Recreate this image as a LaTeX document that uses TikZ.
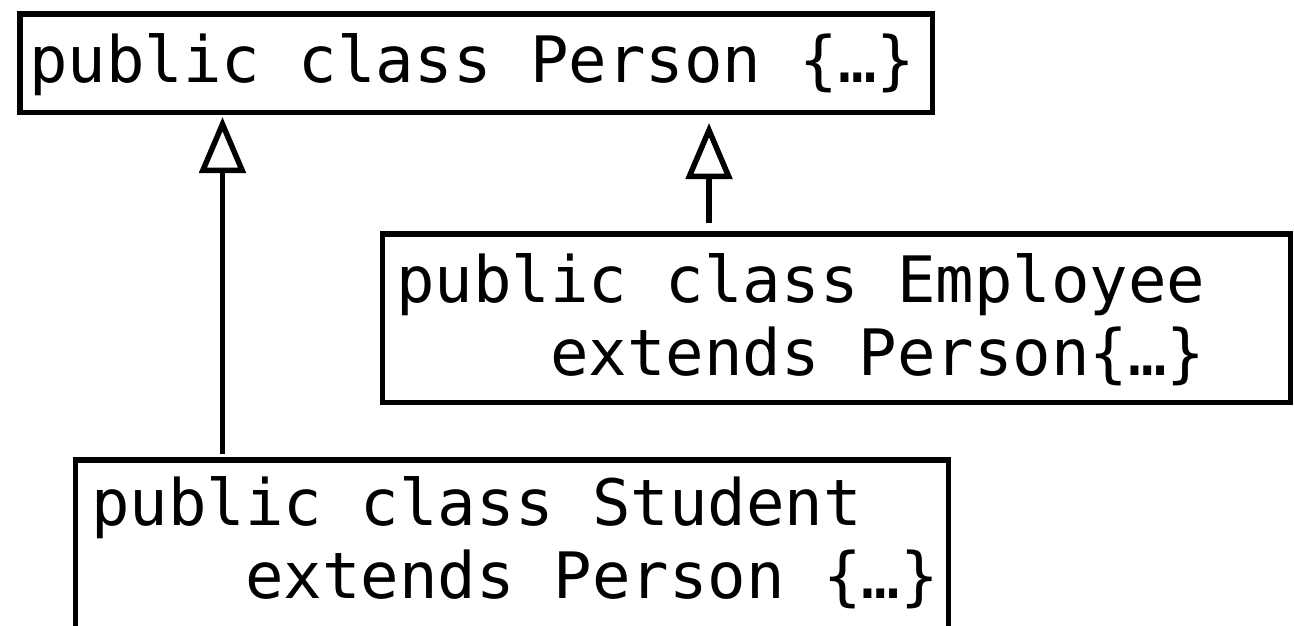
\documentclass[tikz,border=0pt]{standalone}
\usepackage{fontspec}
\setmonofont{DejaVu Sans Mono}
\usetikzlibrary{arrows.meta}
\tikzset{
  classbox/.style={draw, line width=5.5pt, inner sep=0pt, outer sep=0pt, anchor=north west},
  code/.style={font=\ttfamily\fontsize{64}{73}\selectfont, inner sep=0pt, anchor=base west, align=left},
  inherit/.style={draw, line width=5.5pt, -{Triangle[open, length=56pt, width=46pt]}}
}
\begin{document}
\begin{tikzpicture}[x=1pt,y=-1pt]
  \useasboundingbox (0,0) rectangle (1294,625);
  \clip (0,0) rectangle (1294,625);
  % class boxes
  \node[classbox, minimum width=912.5pt, minimum height=98.5pt] (person) at (20,14) {};
  \node[classbox, minimum width=908pt, minimum height=168.5pt] (employee) at (382.5,234) {};
  \node[classbox, minimum width=873pt, minimum height=250pt] (student) at (75.5,460) {};
  % class declarations (a two-line node sits on the baseline of its last line)
  \node[code] (persontxt) at (29,82) {public class Person \{…\}};
  \node[code] (employeetxt) at (396,375) {public class Employee\\\ \ \ \ extends Person\{…\}};
  \node[code] (studenttxt) at (91,598) {public class Student\\\ \ \ \ extends Person \{…\}};
  % inheritance arrows
  \path (student.north west) ++(147,0) coordinate (sfoot);
  \path (employee.north west) ++(326.5,0) coordinate (efoot);
  \draw[inherit, shorten <=6pt, shorten >=4.5pt] (sfoot) -- (sfoot |- person.south);
  \draw[inherit, shorten <=11pt, shorten >=10.5pt] (efoot) -- (efoot |- person.south);
\end{tikzpicture}
\end{document}
